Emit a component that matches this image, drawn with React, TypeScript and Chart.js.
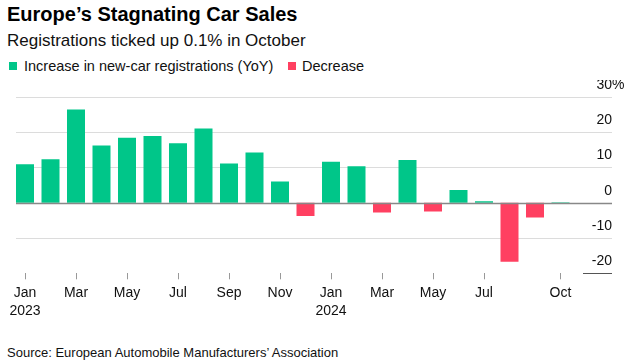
import React, { useEffect, useRef } from "react";
import { Chart, registerables } from "chart.js";

Chart.register(...registerables);

const months = [
  "Jan", "Feb", "Mar", "Apr", "May", "Jun", "Jul", "Aug", "Sep", "Oct", "Nov", "Dec",
  "Jan", "Feb", "Mar", "Apr", "May", "Jun", "Jul", "Aug", "Sep", "Oct",
];
const years = [
  "2023", "", "", "", "", "", "", "", "", "", "", "",
  "2024", "", "", "", "", "", "", "", "", "",
];
const changes = [
  10.9, 12.3, 26.4, 16.2, 18.4, 18.9, 16.8, 21.0, 11.1, 14.2, 6.0, -3.8,
  11.6, 10.3, -2.8, 12.1, -2.5, 3.6, 0.4, -16.7, -4.2, 0.1,
];
const labelledIdx = [0, 2, 4, 6, 8, 10, 12, 14, 16, 18, 21];
const yTicks = [30, 20, 10, 0, -10, -20];

const GREEN = "#00C689";
const RED = "#FF4061";
const FONT = "'Liberation Sans', Arial, Helvetica, sans-serif";

const gridPlugin = {
  id: "customGrid",
  beforeDatasetsDraw(chart: any) {
    const ctx = chart.ctx;
    const y = chart.scales.y;
    const x0 = 16;
    const x1 = 612;
    ctx.save();
    yTicks.forEach((v) => {
      const py = Math.round(y.getPixelForValue(v)) + 0.5;
      if (v === 0) return;
      if (v === -20) {
        ctx.strokeStyle = "#555";
        ctx.lineWidth = 1;
        ctx.beginPath();
        ctx.moveTo(583, py);
        ctx.lineTo(x1, py);
        ctx.stroke();
        return;
      }
      ctx.strokeStyle = "#dcdcdc";
      ctx.lineWidth = 1;
      ctx.beginPath();
      ctx.moveTo(x0, py);
      ctx.lineTo(x1, py);
      ctx.stroke();
    });
    ctx.fillStyle = "#111";
    ctx.font = `14px ${FONT}`;
    ctx.textBaseline = "alphabetic";
    yTicks.forEach((v) => {
      const py = y.getPixelForValue(v) - 8;
      ctx.textAlign = "right";
      ctx.fillText(String(v), x1, py);
      if (v === 30) {
        ctx.textAlign = "left";
        ctx.fillText("%", x1, py);
      }
    });
    ctx.restore();
  },
  afterDatasetsDraw(chart: any) {
    const ctx = chart.ctx;
    const y = chart.scales.y;
    const py = Math.round(y.getPixelForValue(0)) + 0.5;
    ctx.save();
    ctx.strokeStyle = "#888";
    ctx.lineWidth = 1.5;
    ctx.beginPath();
    ctx.moveTo(16, py);
    ctx.lineTo(612, py);
    ctx.stroke();
    ctx.restore();
  },
};

export default function App() {
  const ref = useRef<HTMLCanvasElement | null>(null);

  useEffect(() => {
    if (!ref.current) return;
    const chart = new Chart(ref.current, {
      type: "bar",
      data: {
        labels: months,
        datasets: [
          {
            data: changes,
            backgroundColor: changes.map((v) => (v >= 0 ? GREEN : RED)),
            borderWidth: 0,
            barPercentage: 0.706,
            categoryPercentage: 1,
          },
        ],
      },
      options: {
        animation: false,
        responsive: false,
        maintainAspectRatio: false,
        devicePixelRatio: 1,
        layout: { padding: { left: 12.25, right: 63.75, top: 16.7, bottom: 0 } },
        plugins: { legend: { display: false }, tooltip: { enabled: false } },
        scales: {
          x: {
            offset: true,
            border: { display: false },
            grid: {
              offset: false,
              drawOnChartArea: false,
              drawTicks: true,
              tickLength: 6,
              color: (c: any) =>
                labelledIdx.includes(c.index) ? "#999" : "rgba(0,0,0,0)",
            },
            ticks: {
              autoSkip: false,
              maxRotation: 0,
              padding: 5,
              color: "#111",
              font: { family: FONT, size: 14, lineHeight: 1.3 },
              callback: (_v: any, i: number) => {
                if (!labelledIdx.includes(i)) return "";
                return years[i] ? [months[i], years[i]] : months[i];
              },
            },
            afterFit: (s: any) => {
              s.height = 56.7;
              s.paddingLeft = 0;
              s.paddingRight = 0;
            },
          },
          y: {
            display: false,
            min: -20,
            max: 30,
          },
        },
      },
      plugins: [gridPlugin],
    });
    return () => chart.destroy();
  }, []);

  const abs = (top: number, left: number, size: number, extra: any = {}) => ({
    position: "absolute" as const,
    top,
    left,
    fontSize: size,
    lineHeight: `${size}px`,
    fontFamily: FONT,
    color: "#111",
    whiteSpace: "nowrap" as const,
    margin: 0,
    ...extra,
  });

  return (
    <div
      style={{
        position: "fixed",
        left: 0,
        top: 0,
        width: 637,
        height: 364,
        background: "#fff",
        overflow: "hidden",
      }}
    >
      <div style={abs(4.1, 7, 20, { fontWeight: "bold", color: "#000" })}>
        Europe’s Stagnating Car Sales
      </div>
      <div style={abs(32.3, 7, 17)}>Registrations ticked up 0.1% in October</div>
      <div style={{ position: "absolute", top: 62, left: 9, width: 8, height: 8, background: GREEN }} />
      <div style={abs(58.7, 24, 14.5)}>Increase in new-car registrations (YoY)</div>
      <div style={{ position: "absolute", top: 62, left: 288, width: 8, height: 8, background: RED }} />
      <div style={abs(58.7, 302, 14.5)}>Decrease</div>
      <canvas
        ref={ref}
        width={637}
        height={250}
        style={{ position: "absolute", left: 0, top: 80, width: 637, height: 250 }}
      />
      <div style={abs(346, 7, 13)}>
        Source: European Automobile Manufacturers’ Association
      </div>
    </div>
  );
}
